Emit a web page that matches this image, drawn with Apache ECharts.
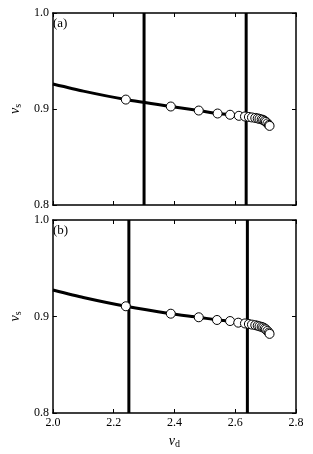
<!DOCTYPE html>
<html><head><meta charset="utf-8">
<script src="https://cdn.jsdelivr.net/npm/echarts@6/dist/echarts.min.js"></script>
<style>html,body{margin:0;padding:0;background:#fff}#c{width:313px;height:454px}</style>
</head><body><div id="c"></div>
<script>
// Panel (a)
const curveA_x = [2.0, 2.1, 2.24, 2.388, 2.48, 2.542, 2.583, 2.612, 2.632, 2.645, 2.655, 2.666, 2.674, 2.680, 2.687, 2.692, 2.697, 2.701, 2.706, 2.711, 2.713];
const curveA_y = [0.926, 0.9186, 0.9098, 0.9026, 0.8984, 0.8953, 0.8940, 0.8929, 0.8922, 0.8917, 0.8912, 0.8907, 0.8902, 0.8897, 0.8891, 0.8886, 0.8876, 0.8866, 0.8850, 0.8834, 0.8824];
const pointsA_x = [2.24, 2.388, 2.48, 2.542, 2.583, 2.612, 2.632, 2.645, 2.655, 2.666, 2.674, 2.680, 2.687, 2.692, 2.697, 2.701, 2.706, 2.711, 2.713];
const pointsA_y = [0.9098, 0.9026, 0.8984, 0.8953, 0.8940, 0.8929, 0.8922, 0.8917, 0.8912, 0.8907, 0.8902, 0.8897, 0.8891, 0.8886, 0.8876, 0.8866, 0.8850, 0.8834, 0.8824];
const vlinesA = [2.30, 2.636];
// Panel (b)
const curveB_x = [2.0, 2.1, 2.24, 2.388, 2.48, 2.54, 2.583, 2.61, 2.632, 2.645, 2.655, 2.666, 2.674, 2.680, 2.687, 2.692, 2.697, 2.701, 2.706, 2.711, 2.713];
const curveB_y = [0.9275, 0.9197, 0.9106, 0.9029, 0.8992, 0.8964, 0.8953, 0.8936, 0.8928, 0.8922, 0.8916, 0.8910, 0.8904, 0.8898, 0.8892, 0.8886, 0.8876, 0.8866, 0.8850, 0.8834, 0.8820];
const pointsB_x = [2.24, 2.388, 2.48, 2.54, 2.583, 2.61, 2.632, 2.645, 2.655, 2.666, 2.674, 2.680, 2.687, 2.692, 2.697, 2.701, 2.706, 2.711, 2.713];
const pointsB_y = [0.9106, 0.9029, 0.8992, 0.8964, 0.8953, 0.8936, 0.8928, 0.8922, 0.8916, 0.8910, 0.8904, 0.8898, 0.8892, 0.8886, 0.8876, 0.8866, 0.8850, 0.8834, 0.8820];
const vlinesB = [2.25, 2.64];
const xTicks = ['2.0', '2.2', '2.4', '2.6', '2.8'];
const yTicks = ['0.8', '0.9', '1.0'];
const panelLabels = ['(a)', '(b)'];

const FONT = 'Liberation Serif';
const zip = (xs, ys) => xs.map((x, i) => [x, ys[i]]);

const chart = echarts.init(document.getElementById('c'), null, {renderer: 'canvas'});
const grids = [
  {left: 48, top: 13, width: 248, height: 192},
  {left: 48, top: 220, width: 248, height: 193}
];
const axisLine = {show: true, lineStyle: {color: '#000', width: 1.5}};
const axisTick = {show: true, inside: true, length: 4, lineStyle: {color: '#000', width: 1}};
const xAxes = [], yAxes = [];
[0, 1].forEach(g => {
  xAxes.push({type: 'value', gridIndex: g, min: 2.0, max: 2.8, interval: 0.2, position: 'bottom',
    axisLine, axisTick, splitLine: {show: false},
    axisLabel: {show: g === 1, color: '#000', fontFamily: FONT, fontSize: 12, margin: 4,
      formatter: v => xTicks.find(t => Math.abs(parseFloat(t) - v) < 1e-6) || ''},
    name: g === 1 ? '{a|ν}{s|d}' : '', nameLocation: 'middle', nameGap: 20,
    nameTextStyle: {rich: {a: {fontFamily: FONT, fontSize: 14, fontStyle: 'italic', color: '#000'},
      s: {fontFamily: FONT, fontSize: 10, color: '#000', verticalAlign: 'bottom', padding: [6, 0, 0, 0]}}}
  });
  xAxes.push({type: 'value', gridIndex: g, min: 2.0, max: 2.8, interval: 0.2, position: 'top',
    axisLine, axisTick, axisLabel: {show: false}, splitLine: {show: false}});
  yAxes.push({type: 'value', gridIndex: g, min: 0.8, max: 1.0, interval: 0.1, position: 'left',
    axisLine, axisTick, splitLine: {show: false},
    axisLabel: {color: '#000', fontFamily: FONT, fontSize: 12, margin: 4,
      formatter: v => yTicks.find(t => Math.abs(parseFloat(t) - v) < 1e-6) || ''},
    name: '{a|ν}{s|s}', nameLocation: 'middle', nameGap: 26, nameRotate: 90,
    nameTextStyle: {rich: {a: {fontFamily: FONT, fontSize: 14, fontStyle: 'italic', color: '#000'},
      s: {fontFamily: FONT, fontSize: 10, color: '#000', padding: [6, 0, 0, 0]}}}
  });
  yAxes.push({type: 'value', gridIndex: g, min: 0.8, max: 1.0, interval: 0.1, position: 'right',
    axisLine, axisTick, axisLabel: {show: false}, splitLine: {show: false}});
});

const series = [];
const panels = [
  {cx: curveA_x, cy: curveA_y, px: pointsA_x, py: pointsA_y, v: vlinesA},
  {cx: curveB_x, cy: curveB_y, px: pointsB_x, py: pointsB_y, v: vlinesB}
];
panels.forEach((p, g) => {
  p.v.forEach(x => series.push({type: 'line', xAxisIndex: 2 * g, yAxisIndex: 2 * g,
    data: [[x, 0.8], [x, 1.0]], symbol: 'none', lineStyle: {color: '#000', width: 3}, z: 2, silent: true}));
  series.push({type: 'line', xAxisIndex: 2 * g, yAxisIndex: 2 * g, data: zip(p.cx, p.cy),
    symbol: 'none', smooth: 0.2, lineStyle: {color: '#000', width: 3}, z: 3});
  series.push({type: 'scatter', xAxisIndex: 2 * g, yAxisIndex: 2 * g, data: zip(p.px, p.py),
    symbol: 'circle', symbolSize: 9, itemStyle: {color: '#fff', borderColor: '#000', borderWidth: 1, opacity: 1}, z: 4});
});

chart.setOption({
  animation: false,
  backgroundColor: '#fff',
  grid: grids,
  xAxis: xAxes,
  yAxis: yAxes,
  graphic: [
    {type: 'text', left: 53, top: 17, style: {text: panelLabels[0], font: '13px ' + FONT, fill: '#000'}},
    {type: 'text', left: 53, top: 224, style: {text: panelLabels[1], font: '13px ' + FONT, fill: '#000'}}
  ],
  series
});
</script></body></html>
